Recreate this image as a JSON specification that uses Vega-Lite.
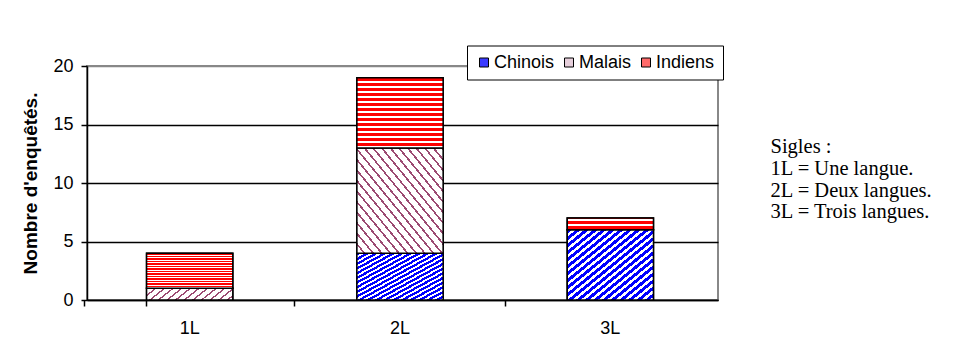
{
  "$schema": "https://vega.github.io/schema/vega-lite/v6.json",
  "background": "white",
  "padding": {"left": 20, "top": 44, "right": 0, "bottom": 0},
  "datasets": {
    "effectifs": [
      {"cat": "1L", "groupe": "Malais", "ordre": 2, "n": 1},
      {"cat": "1L", "groupe": "Indiens", "ordre": 3, "n": 3},
      {"cat": "2L", "groupe": "Chinois", "ordre": 1, "n": 4},
      {"cat": "2L", "groupe": "Malais", "ordre": 2, "n": 9},
      {"cat": "2L", "groupe": "Indiens", "ordre": 3, "n": 6},
      {"cat": "3L", "groupe": "Chinois", "ordre": 1, "n": 6},
      {"cat": "3L", "groupe": "Indiens", "ordre": 3, "n": 1}
    ],
    "sigles": [
      {"ligne": 1, "texte": "Sigles :"},
      {"ligne": 2, "texte": "1L = Une langue."},
      {"ligne": 3, "texte": "2L = Deux langues."},
      {"ligne": 4, "texte": "3L = Trois langues."}
    ]
  },
  "spacing": 45,
  "resolve": {"legend": {"color": "independent"}},
  "hconcat": [
    {
      "width": 631,
      "height": 234,
      "view": {"stroke": "#888888", "strokeWidth": 2},
      "data": {"name": "effectifs"},
      "transform": [
        {"stack": "n", "groupby": ["cat"], "sort": [{"field": "ordre", "order": "ascending"}], "as": ["y0", "y1"]}
      ],
      "encoding": {
        "x": {
          "field": "cat",
          "type": "nominal",
          "scale": {"paddingInner": 0.59, "paddingOuter": 0.295, "align": 0.48},
          "axis": {
            "title": null,
            "labelAngle": 0,
            "labelFont": "Liberation Sans",
            "labelFontSize": 18,
            "labelColor": "black",
            "labelPadding": 13,
            "tickSize": 6,
            "tickColor": "black",
            "tickWidth": 1.5,
            "domainColor": "black",
            "domainWidth": 1.5,
            "bandPosition": -0.72,
            "tickExtra": true
          }
        },
        "y": {
          "field": "y1",
          "type": "quantitative",
          "scale": {"domain": [0, 20]},
          "axis": {
            "values": [0, 5, 10, 15, 20],
            "title": "Nombre d'enquêtés.",
            "titleFont": "Liberation Sans",
            "titleFontSize": 19,
            "titleFontWeight": "bold",
            "titleColor": "black",
            "titlePadding": 12,
            "labelFont": "Liberation Sans",
            "labelFontSize": 18,
            "labelColor": "black",
            "labelPadding": 8,
            "tickSize": 6,
            "tickColor": "black",
            "tickWidth": 1.5,
            "domainColor": "black",
            "domainWidth": 1.5,
            "grid": true,
            "gridColor": {"condition": {"test": "datum.value == 20", "value": "#888888"}, "value": "black"},
            "gridWidth": 1.5,
            "gridOpacity": 1
          }
        },
        "y2": {"field": "y0"}
      },
      "layer": [
        {
          "mark": {"type": "bar", "stroke": "black", "strokeWidth": 1.5},
          "encoding": {
            "color": {
              "field": "groupe",
              "type": "nominal",
              "sort": ["Chinois", "Malais", "Indiens"],
              "scale": {"domain": ["Chinois", "Malais", "Indiens"], "range": ["#3a3aff", "#e6cfdb", "#ff6a6a"]},
              "legend": {
                "title": null,
                "orient": "none",
                "legendX": 380,
                "legendY": -20.5,
                "direction": "horizontal",
                "columns": 3,
                "gridAlign": "none",
                "symbolType": "square",
                "symbolSize": 81,
                "symbolStrokeColor": "black",
                "symbolStrokeWidth": 1,
                "symbolOpacity": 1,
                "labelFont": "Liberation Sans",
                "labelFontSize": 18,
                "labelColor": "black",
                "labelOffset": 1,
                "columnPadding": 5,
                "padding": 8,
                "fillColor": "white",
                "strokeColor": "black"
              }
            }
          }
        },
        {
          "transform": [{"filter": "datum.groupe === 'Chinois'"}],
          "mark": {"type": "bar", "stroke": "black", "strokeWidth": 1.5,
            "fill": {"gradient": "linear", "x1": 0, "y1": 0, "x2": 1, "y2": 1, "stops": [
                {"offset": 0, "color": "#0000ff"}, {"offset": 0.0275, "color": "#0000ff"}, {"offset": 0.0275, "color": "#ffffff"}, {"offset": 0.05, "color": "#ffffff"},
                {"offset": 0.05, "color": "#0000ff"}, {"offset": 0.0775, "color": "#0000ff"}, {"offset": 0.0775, "color": "#ffffff"}, {"offset": 0.1, "color": "#ffffff"},
                {"offset": 0.1, "color": "#0000ff"}, {"offset": 0.1275, "color": "#0000ff"}, {"offset": 0.1275, "color": "#ffffff"}, {"offset": 0.15, "color": "#ffffff"},
                {"offset": 0.15, "color": "#0000ff"}, {"offset": 0.1775, "color": "#0000ff"}, {"offset": 0.1775, "color": "#ffffff"}, {"offset": 0.2, "color": "#ffffff"},
                {"offset": 0.2, "color": "#0000ff"}, {"offset": 0.2275, "color": "#0000ff"}, {"offset": 0.2275, "color": "#ffffff"}, {"offset": 0.25, "color": "#ffffff"},
                {"offset": 0.25, "color": "#0000ff"}, {"offset": 0.2775, "color": "#0000ff"}, {"offset": 0.2775, "color": "#ffffff"}, {"offset": 0.3, "color": "#ffffff"},
                {"offset": 0.3, "color": "#0000ff"}, {"offset": 0.3275, "color": "#0000ff"}, {"offset": 0.3275, "color": "#ffffff"}, {"offset": 0.35, "color": "#ffffff"},
                {"offset": 0.35, "color": "#0000ff"}, {"offset": 0.3775, "color": "#0000ff"}, {"offset": 0.3775, "color": "#ffffff"}, {"offset": 0.4, "color": "#ffffff"},
                {"offset": 0.4, "color": "#0000ff"}, {"offset": 0.4275, "color": "#0000ff"}, {"offset": 0.4275, "color": "#ffffff"}, {"offset": 0.45, "color": "#ffffff"},
                {"offset": 0.45, "color": "#0000ff"}, {"offset": 0.4775, "color": "#0000ff"}, {"offset": 0.4775, "color": "#ffffff"}, {"offset": 0.5, "color": "#ffffff"},
                {"offset": 0.5, "color": "#0000ff"}, {"offset": 0.5275, "color": "#0000ff"}, {"offset": 0.5275, "color": "#ffffff"}, {"offset": 0.55, "color": "#ffffff"},
                {"offset": 0.55, "color": "#0000ff"}, {"offset": 0.5775, "color": "#0000ff"}, {"offset": 0.5775, "color": "#ffffff"}, {"offset": 0.6, "color": "#ffffff"},
                {"offset": 0.6, "color": "#0000ff"}, {"offset": 0.6275, "color": "#0000ff"}, {"offset": 0.6275, "color": "#ffffff"}, {"offset": 0.65, "color": "#ffffff"},
                {"offset": 0.65, "color": "#0000ff"}, {"offset": 0.6775, "color": "#0000ff"}, {"offset": 0.6775, "color": "#ffffff"}, {"offset": 0.7, "color": "#ffffff"},
                {"offset": 0.7, "color": "#0000ff"}, {"offset": 0.7275, "color": "#0000ff"}, {"offset": 0.7275, "color": "#ffffff"}, {"offset": 0.75, "color": "#ffffff"},
                {"offset": 0.75, "color": "#0000ff"}, {"offset": 0.7775, "color": "#0000ff"}, {"offset": 0.7775, "color": "#ffffff"}, {"offset": 0.8, "color": "#ffffff"},
                {"offset": 0.8, "color": "#0000ff"}, {"offset": 0.8275, "color": "#0000ff"}, {"offset": 0.8275, "color": "#ffffff"}, {"offset": 0.85, "color": "#ffffff"},
                {"offset": 0.85, "color": "#0000ff"}, {"offset": 0.8775, "color": "#0000ff"}, {"offset": 0.8775, "color": "#ffffff"}, {"offset": 0.9, "color": "#ffffff"},
                {"offset": 0.9, "color": "#0000ff"}, {"offset": 0.9275, "color": "#0000ff"}, {"offset": 0.9275, "color": "#ffffff"}, {"offset": 0.95, "color": "#ffffff"},
                {"offset": 0.95, "color": "#0000ff"}, {"offset": 0.9775, "color": "#0000ff"}, {"offset": 0.9775, "color": "#ffffff"}, {"offset": 1, "color": "#ffffff"}
            ]}
          }
        },
        {
          "transform": [{"filter": "datum.groupe === 'Malais'"}],
          "mark": {"type": "bar", "stroke": "black", "strokeWidth": 1.5,
            "fill": {"gradient": "linear", "x1": 1, "y1": 0, "x2": 0, "y2": 1, "stops": [
                {"offset": 0, "color": "#9c4a72"}, {"offset": 0.0125, "color": "#9c4a72"}, {"offset": 0.0125, "color": "#ffffff"}, {"offset": 0.05, "color": "#ffffff"},
                {"offset": 0.05, "color": "#9c4a72"}, {"offset": 0.0625, "color": "#9c4a72"}, {"offset": 0.0625, "color": "#ffffff"}, {"offset": 0.1, "color": "#ffffff"},
                {"offset": 0.1, "color": "#9c4a72"}, {"offset": 0.1125, "color": "#9c4a72"}, {"offset": 0.1125, "color": "#ffffff"}, {"offset": 0.15, "color": "#ffffff"},
                {"offset": 0.15, "color": "#9c4a72"}, {"offset": 0.1625, "color": "#9c4a72"}, {"offset": 0.1625, "color": "#ffffff"}, {"offset": 0.2, "color": "#ffffff"},
                {"offset": 0.2, "color": "#9c4a72"}, {"offset": 0.2125, "color": "#9c4a72"}, {"offset": 0.2125, "color": "#ffffff"}, {"offset": 0.25, "color": "#ffffff"},
                {"offset": 0.25, "color": "#9c4a72"}, {"offset": 0.2625, "color": "#9c4a72"}, {"offset": 0.2625, "color": "#ffffff"}, {"offset": 0.3, "color": "#ffffff"},
                {"offset": 0.3, "color": "#9c4a72"}, {"offset": 0.3125, "color": "#9c4a72"}, {"offset": 0.3125, "color": "#ffffff"}, {"offset": 0.35, "color": "#ffffff"},
                {"offset": 0.35, "color": "#9c4a72"}, {"offset": 0.3625, "color": "#9c4a72"}, {"offset": 0.3625, "color": "#ffffff"}, {"offset": 0.4, "color": "#ffffff"},
                {"offset": 0.4, "color": "#9c4a72"}, {"offset": 0.4125, "color": "#9c4a72"}, {"offset": 0.4125, "color": "#ffffff"}, {"offset": 0.45, "color": "#ffffff"},
                {"offset": 0.45, "color": "#9c4a72"}, {"offset": 0.4625, "color": "#9c4a72"}, {"offset": 0.4625, "color": "#ffffff"}, {"offset": 0.5, "color": "#ffffff"},
                {"offset": 0.5, "color": "#9c4a72"}, {"offset": 0.5125, "color": "#9c4a72"}, {"offset": 0.5125, "color": "#ffffff"}, {"offset": 0.55, "color": "#ffffff"},
                {"offset": 0.55, "color": "#9c4a72"}, {"offset": 0.5625, "color": "#9c4a72"}, {"offset": 0.5625, "color": "#ffffff"}, {"offset": 0.6, "color": "#ffffff"},
                {"offset": 0.6, "color": "#9c4a72"}, {"offset": 0.6125, "color": "#9c4a72"}, {"offset": 0.6125, "color": "#ffffff"}, {"offset": 0.65, "color": "#ffffff"},
                {"offset": 0.65, "color": "#9c4a72"}, {"offset": 0.6625, "color": "#9c4a72"}, {"offset": 0.6625, "color": "#ffffff"}, {"offset": 0.7, "color": "#ffffff"},
                {"offset": 0.7, "color": "#9c4a72"}, {"offset": 0.7125, "color": "#9c4a72"}, {"offset": 0.7125, "color": "#ffffff"}, {"offset": 0.75, "color": "#ffffff"},
                {"offset": 0.75, "color": "#9c4a72"}, {"offset": 0.7625, "color": "#9c4a72"}, {"offset": 0.7625, "color": "#ffffff"}, {"offset": 0.8, "color": "#ffffff"},
                {"offset": 0.8, "color": "#9c4a72"}, {"offset": 0.8125, "color": "#9c4a72"}, {"offset": 0.8125, "color": "#ffffff"}, {"offset": 0.85, "color": "#ffffff"},
                {"offset": 0.85, "color": "#9c4a72"}, {"offset": 0.8625, "color": "#9c4a72"}, {"offset": 0.8625, "color": "#ffffff"}, {"offset": 0.9, "color": "#ffffff"},
                {"offset": 0.9, "color": "#9c4a72"}, {"offset": 0.9125, "color": "#9c4a72"}, {"offset": 0.9125, "color": "#ffffff"}, {"offset": 0.95, "color": "#ffffff"},
                {"offset": 0.95, "color": "#9c4a72"}, {"offset": 0.9625, "color": "#9c4a72"}, {"offset": 0.9625, "color": "#ffffff"}, {"offset": 1, "color": "#ffffff"}
            ]}
          }
        },
        {
          "transform": [{"filter": "datum.groupe === 'Indiens'"}],
          "mark": {"type": "bar", "stroke": "black", "strokeWidth": 1.5,
            "fill": {"gradient": "linear", "x1": 0, "y1": 0, "x2": 0, "y2": 1, "stops": [
                {"offset": 0, "color": "#ff0000"}, {"offset": 0.0429, "color": "#ff0000"}, {"offset": 0.0429, "color": "#ffffff"}, {"offset": 0.0714, "color": "#ffffff"},
                {"offset": 0.0714, "color": "#ff0000"}, {"offset": 0.1143, "color": "#ff0000"}, {"offset": 0.1143, "color": "#ffffff"}, {"offset": 0.1429, "color": "#ffffff"},
                {"offset": 0.1429, "color": "#ff0000"}, {"offset": 0.1857, "color": "#ff0000"}, {"offset": 0.1857, "color": "#ffffff"}, {"offset": 0.2143, "color": "#ffffff"},
                {"offset": 0.2143, "color": "#ff0000"}, {"offset": 0.2571, "color": "#ff0000"}, {"offset": 0.2571, "color": "#ffffff"}, {"offset": 0.2857, "color": "#ffffff"},
                {"offset": 0.2857, "color": "#ff0000"}, {"offset": 0.3286, "color": "#ff0000"}, {"offset": 0.3286, "color": "#ffffff"}, {"offset": 0.3571, "color": "#ffffff"},
                {"offset": 0.3571, "color": "#ff0000"}, {"offset": 0.4, "color": "#ff0000"}, {"offset": 0.4, "color": "#ffffff"}, {"offset": 0.4286, "color": "#ffffff"},
                {"offset": 0.4286, "color": "#ff0000"}, {"offset": 0.4714, "color": "#ff0000"}, {"offset": 0.4714, "color": "#ffffff"}, {"offset": 0.5, "color": "#ffffff"},
                {"offset": 0.5, "color": "#ff0000"}, {"offset": 0.5429, "color": "#ff0000"}, {"offset": 0.5429, "color": "#ffffff"}, {"offset": 0.5714, "color": "#ffffff"},
                {"offset": 0.5714, "color": "#ff0000"}, {"offset": 0.6143, "color": "#ff0000"}, {"offset": 0.6143, "color": "#ffffff"}, {"offset": 0.6429, "color": "#ffffff"},
                {"offset": 0.6429, "color": "#ff0000"}, {"offset": 0.6857, "color": "#ff0000"}, {"offset": 0.6857, "color": "#ffffff"}, {"offset": 0.7143, "color": "#ffffff"},
                {"offset": 0.7143, "color": "#ff0000"}, {"offset": 0.7571, "color": "#ff0000"}, {"offset": 0.7571, "color": "#ffffff"}, {"offset": 0.7857, "color": "#ffffff"},
                {"offset": 0.7857, "color": "#ff0000"}, {"offset": 0.8286, "color": "#ff0000"}, {"offset": 0.8286, "color": "#ffffff"}, {"offset": 0.8571, "color": "#ffffff"},
                {"offset": 0.8571, "color": "#ff0000"}, {"offset": 0.9, "color": "#ff0000"}, {"offset": 0.9, "color": "#ffffff"}, {"offset": 0.9286, "color": "#ffffff"},
                {"offset": 0.9286, "color": "#ff0000"}, {"offset": 0.9714, "color": "#ff0000"}, {"offset": 0.9714, "color": "#ffffff"}, {"offset": 1, "color": "#ffffff"}
            ]}
          }
        }
      ]
    },
    {
      "width": 1,
      "height": 234,
      "view": {"stroke": null},
      "data": {"name": "sigles"},
      "mark": {"type": "text", "align": "left", "baseline": "middle", "font": "Liberation Serif", "fontSize": 20.5, "color": "black"},
      "encoding": {
        "y": {
          "field": "ligne",
          "type": "quantitative",
          "scale": {"domain": [-2.76, 8.04], "reverse": true, "nice": false, "zero": false},
          "axis": null
        },
        "text": {"field": "texte"}
      }
    }
  ]
}
